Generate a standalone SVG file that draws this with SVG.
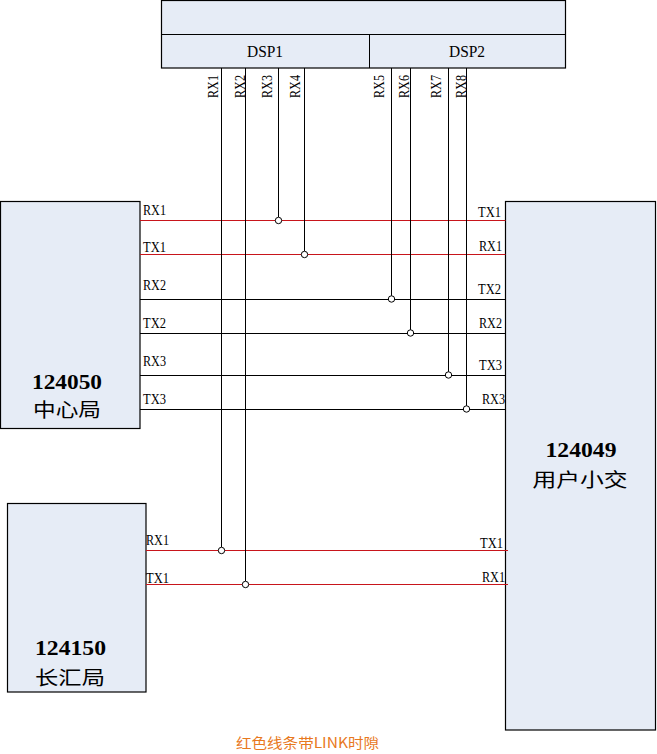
<svg xmlns="http://www.w3.org/2000/svg" width="657" height="754" viewBox="0 0 657 754">
<style>
.box{fill:#E6ECF6;stroke:#000;stroke-width:1.2}
.lbl{font-family:"Liberation Serif",serif;font-size:14px;fill:#000}
.big{font-family:"Liberation Serif",serif;font-size:20px;font-weight:bold;fill:#000;text-anchor:middle}
.cjk{font-family:"Noto Sans CJK SC",sans-serif;font-size:19px;fill:#000;text-anchor:middle}
.dsp{font-family:"Liberation Serif",serif;font-size:16px;fill:#000;text-anchor:middle}
.blk{stroke:#000;stroke-width:1;fill:none}
.red{stroke:#C8151B;stroke-width:1;fill:none}
.dot{fill:#fff;stroke:#000;stroke-width:1}
</style>
<rect width="657" height="754" fill="#fff"/>
<g id="dsp">
<rect class="box" x="161.5" y="0.5" width="404" height="67.5"/>
<line class="blk" x1="161.5" y1="34.5" x2="565.5" y2="34.5"/>
<line class="blk" x1="369.5" y1="34.5" x2="369.5" y2="68"/>
<text class="dsp" x="265" y="57" textLength="36" lengthAdjust="spacingAndGlyphs">DSP1</text>
<text class="dsp" x="467" y="57" textLength="36" lengthAdjust="spacingAndGlyphs">DSP2</text>
<g class="lbl">
<text transform="translate(218,98) rotate(-90)" textLength="23" lengthAdjust="spacingAndGlyphs">RX1</text>
<text transform="translate(245,98) rotate(-90)" textLength="23" lengthAdjust="spacingAndGlyphs">RX2</text>
<text transform="translate(272,98) rotate(-90)" textLength="23" lengthAdjust="spacingAndGlyphs">RX3</text>
<text transform="translate(300,98) rotate(-90)" textLength="23" lengthAdjust="spacingAndGlyphs">RX4</text>
<text transform="translate(384,98) rotate(-90)" textLength="23" lengthAdjust="spacingAndGlyphs">RX5</text>
<text transform="translate(409,98) rotate(-90)" textLength="23" lengthAdjust="spacingAndGlyphs">RX6</text>
<text transform="translate(441,98) rotate(-90)" textLength="23" lengthAdjust="spacingAndGlyphs">RX7</text>
<text transform="translate(466,98) rotate(-90)" textLength="23" lengthAdjust="spacingAndGlyphs">RX8</text>
</g>
</g>
<g id="center-office">
<rect class="box" x="0.5" y="201.5" width="139.5" height="227"/>
<text class="big" x="67" y="389" textLength="70" lengthAdjust="spacingAndGlyphs">124050</text>
<text class="cjk" x="67" y="417" textLength="68" lengthAdjust="spacingAndGlyphs">中心局</text>
</g>
<g id="user-pbx">
<rect class="box" x="505.5" y="201.5" width="150" height="528.5"/>
<text class="big" x="581" y="457" textLength="71" lengthAdjust="spacingAndGlyphs">124049</text>
<text class="cjk" x="580" y="487" textLength="95" lengthAdjust="spacingAndGlyphs">用户小交</text>
</g>
<g id="changhui-office">
<rect class="box" x="7.5" y="503.5" width="138.5" height="188.5"/>
<text class="big" x="70.5" y="655" textLength="71" lengthAdjust="spacingAndGlyphs">124150</text>
<text class="cjk" x="70" y="685" textLength="70" lengthAdjust="spacingAndGlyphs">长汇局</text>
</g>
<g id="connectors">
<line class="red" x1="140" y1="220.5" x2="505.5" y2="220.5"/>
<line class="red" x1="140" y1="254.5" x2="505.5" y2="254.5"/>
<line class="blk" x1="140" y1="299.5" x2="505.5" y2="299.5"/>
<line class="blk" x1="140" y1="333.5" x2="505.5" y2="333.5"/>
<line class="blk" x1="140" y1="375.5" x2="505.5" y2="375.5"/>
<line class="blk" x1="140" y1="409.5" x2="505.5" y2="409.5"/>
<line class="red" x1="146" y1="550.5" x2="508" y2="550.5"/>
<line class="red" x1="146" y1="584.5" x2="508" y2="584.5"/>
<line class="blk" x1="221.5" y1="68" x2="221.5" y2="547"/>
<line class="blk" x1="245.5" y1="68" x2="245.5" y2="581"/>
<line class="blk" x1="278.5" y1="68" x2="278.5" y2="217"/>
<line class="blk" x1="304.5" y1="68" x2="304.5" y2="251"/>
<line class="blk" x1="391.5" y1="68" x2="391.5" y2="296"/>
<line class="blk" x1="410.5" y1="68" x2="410.5" y2="330"/>
<line class="blk" x1="448.5" y1="68" x2="448.5" y2="372"/>
<line class="blk" x1="466.5" y1="68" x2="466.5" y2="406"/>
<circle class="dot" cx="278.5" cy="220.5" r="3.2"/>
<circle class="dot" cx="304.5" cy="254.5" r="3.2"/>
<circle class="dot" cx="391.5" cy="299" r="3.2"/>
<circle class="dot" cx="410.5" cy="333" r="3.2"/>
<circle class="dot" cx="448.5" cy="375" r="3.2"/>
<circle class="dot" cx="466.5" cy="409" r="3.2"/>
<circle class="dot" cx="221.5" cy="550.5" r="3.2"/>
<circle class="dot" cx="245.5" cy="584.5" r="3.2"/>
<g class="lbl">
<text x="143" y="215" textLength="23" lengthAdjust="spacingAndGlyphs">RX1</text>
<text x="143" y="252" textLength="23" lengthAdjust="spacingAndGlyphs">TX1</text>
<text x="143" y="290" textLength="23" lengthAdjust="spacingAndGlyphs">RX2</text>
<text x="143" y="328" textLength="23" lengthAdjust="spacingAndGlyphs">TX2</text>
<text x="143" y="366" textLength="23" lengthAdjust="spacingAndGlyphs">RX3</text>
<text x="143" y="404" textLength="23" lengthAdjust="spacingAndGlyphs">TX3</text>
<text x="478" y="217" textLength="23" lengthAdjust="spacingAndGlyphs">TX1</text>
<text x="479" y="251" textLength="23" lengthAdjust="spacingAndGlyphs">RX1</text>
<text x="478" y="294" textLength="23" lengthAdjust="spacingAndGlyphs">TX2</text>
<text x="479" y="328" textLength="23" lengthAdjust="spacingAndGlyphs">RX2</text>
<text x="479" y="370" textLength="23" lengthAdjust="spacingAndGlyphs">TX3</text>
<text x="482" y="404" textLength="23" lengthAdjust="spacingAndGlyphs">RX3</text>
<text x="146" y="545" textLength="23" lengthAdjust="spacingAndGlyphs">RX1</text>
<text x="146" y="583" textLength="23" lengthAdjust="spacingAndGlyphs">TX1</text>
<text x="480" y="548" textLength="23" lengthAdjust="spacingAndGlyphs">TX1</text>
<text x="482" y="582" textLength="23" lengthAdjust="spacingAndGlyphs">RX1</text>
</g>
</g>
<text x="236" y="748" font-family="'Noto Sans CJK SC',sans-serif" font-size="14" fill="#E8791E" textLength="143" lengthAdjust="spacingAndGlyphs">红色线条带LINK时隙</text>
</svg>
